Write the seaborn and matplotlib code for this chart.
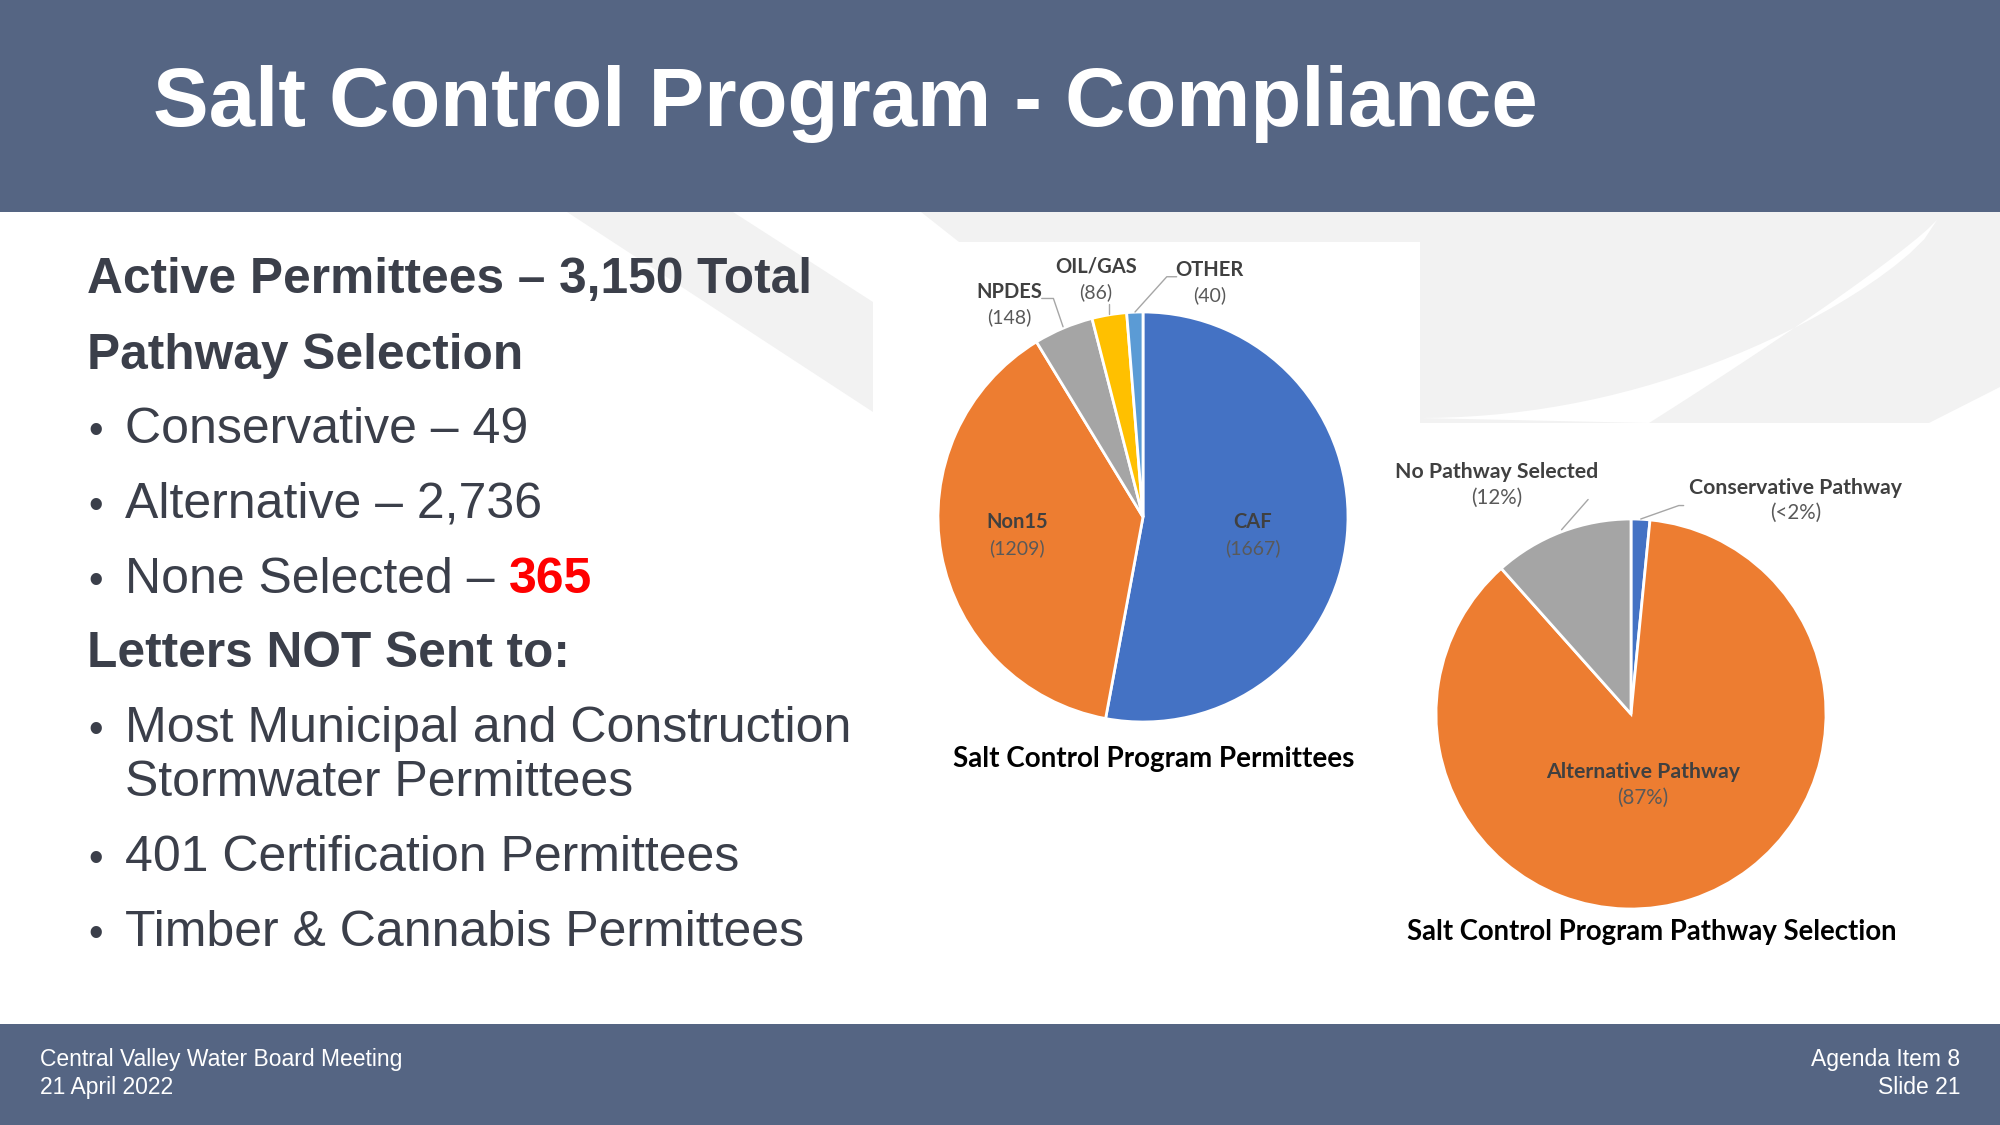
import numpy as np
import seaborn as sns
import matplotlib.pyplot as plt
from matplotlib.patches import Rectangle, Polygon

# ---- data ----
permit_names = ["CAF", "Non15", "NPDES", "OIL/GAS", "OTHER"]
permit_counts = [1667, 1209, 148, 86, 40]

path_names = ["Conservative Pathway", "Alternative Pathway", "No Pathway Selected"]
path_counts = [49, 2736, 365]
path_pcts = ["(<2%)", "(87%)", "(12%)"]

slide_title = "Salt Control Program - Compliance"
total_line = "Active Permittees \u2013 3,150 Total"
pathway_items = ["Conservative \u2013 49", "Alternative \u2013 2,736", "None Selected \u2013 "]
none_count = "365"
not_sent_items = ["Most Municipal and Construction\nStormwater Permittees",
                  "401 Certification Permittees",
                  "Timber & Cannabis Permittees"]
footer_left = ["Central Valley Water Board Meeting", "21 April 2022"]
footer_right = ["Agenda Item 8", "Slide 21"]

# office colours
BLUE, ORANGE, GRAY, GOLD, LBLUE = "#4472C4", "#ED7D31", "#A5A5A5", "#FFC000", "#5B9BD5"
BAND = "#556583"
TXT = "#3b3f4a"
BG_GRAY = "#F2F2F2"

sns.set_theme(style="white")
plt.rcParams['font.family'] = ['Liberation Sans', 'DejaVu Sans']
CHART_FONT = ['Lato', 'DejaVu Sans']

fig = plt.figure(figsize=(20, 11.25), dpi=100)
bg = fig.add_axes([0, 0, 1, 1])
bg.set_xlim(0, 2000)
bg.set_ylim(1125, 0)
bg.axis('off')

# background swoosh shapes
bg.add_patch(Polygon([(567, 212), (733, 212), (873, 302), (873, 412)], closed=True, color=BG_GRAY, lw=0))
bg.add_patch(Polygon([(921, 212), (2000, 212), (2000, 242), (959, 242)], closed=True, color=BG_GRAY, lw=0))
bg.add_patch(Polygon([(1420, 212), (2000, 212), (2000, 387), (1929, 423), (1420, 423)],
                     closed=True, color=BG_GRAY, lw=0))
t = np.linspace(0, 1, 30)
upper = np.column_stack([1937 - 517 * t ** 1.1, 220 + 198 * np.sin(t * np.pi / 2) ** 0.8])
lower = np.column_stack([1937 - 288 * t, 220 + 203 * t ** 0.9])
bg.add_patch(Polygon(np.vstack([upper, lower[::-1]]), closed=True, color="white", lw=0))
bg.add_patch(Rectangle((873, 242), 547, 560, color="white", lw=0))

# header / footer bands
bg.add_patch(Rectangle((0, 0), 2000, 212, color=BAND, lw=0))
bg.add_patch(Rectangle((0, 1024), 2000, 101, color=BAND, lw=0))
bg.text(153, 126, slide_title, color="white", fontsize=60, fontweight="bold", va="baseline")

# left text block
LX, BX, TX = 87, 88, 125
bg.text(LX, 293, total_line, color=TXT, fontsize=35.7, fontweight="bold", va="baseline")
bg.text(LX, 368.6, "Pathway Selection", color=TXT, fontsize=35.7, fontweight="bold", va="baseline")
y = 442.6
for i, item in enumerate(pathway_items):
    bg.text(BX, y, "\u2022", color=TXT, fontsize=30, va="baseline")
    t_item = bg.text(TX, y, item, color=TXT, fontsize=36, va="baseline")
    if i == len(pathway_items) - 1:
        fig.canvas.draw()
        bb = t_item.get_window_extent()
        x_end = bb.x1 * 2000 / fig.bbox.width
        bg.text(x_end, y, none_count, color="#FF0000", fontsize=36, fontweight="bold", va="baseline")
    y += 75.2
bg.text(LX, 667, "Letters NOT Sent to:", color=TXT, fontsize=35.7, fontweight="bold", va="baseline")
for yy, item in zip([742, 871, 946.5], not_sent_items):
    bg.text(BX, yy, "\u2022", color=TXT, fontsize=30, va="baseline")
    lines = item.split("\n")
    for k, ln in enumerate(lines):
        bg.text(TX, yy + k * 54, ln, color=TXT, fontsize=36, va="baseline")

# footer text
bg.text(40, 1066, footer_left[0], color="white", fontsize=16.5, va="baseline")
bg.text(40, 1094, footer_left[1], color="white", fontsize=16.5, va="baseline")
bg.text(1960, 1066, footer_right[0], color="white", fontsize=16.5, va="baseline", ha="right")
bg.text(1960, 1094, footer_right[1], color="white", fontsize=16.5, va="baseline", ha="right")

L = 1.7


def pie_axes(cx, cy, r):
    half = r * L
    ax = fig.add_axes([(cx - half) / 2000, 1 - (cy + half) / 1125, 2 * half / 2000, 2 * half / 1125])
    return ax


def fix_limits(ax):
    ax.set_xlim(-L, L)
    ax.set_ylim(-L, L)
    ax.axis('off')


def label(ax, x, y, name, value, size=14.5, gap=0.125):
    ax.text(x, y, name, ha="center", va="center", fontsize=size, fontweight="bold",
            color="#404040", family=CHART_FONT)
    ax.text(x, y - gap, value, ha="center", va="center", fontsize=size - 0.5,
            color="#595959", family=CHART_FONT)


# ---- pie 1 : permittees ----
ax1 = pie_axes(1143, 517, 205)
ax1.pie(permit_counts, colors=sns.color_palette([BLUE, ORANGE, GRAY, GOLD, LBLUE]),
        startangle=90, counterclock=False, radius=1,
        wedgeprops=dict(edgecolor="white", linewidth=2))
fix_limits(ax1)
p1_pos = [(0.534, -0.025), (-0.615, -0.025), (-0.652, 1.099), (-0.230, 1.224), (0.323, 1.205)]
for (x, yv), nm, cnt in zip(p1_pos, permit_names, permit_counts):
    label(ax1, x, yv, nm, f"({cnt})", size=14.5)
lead = dict(color="#A6A6A6", lw=1)
ax1.plot([-0.39, -0.437, -0.494], [0.928, 1.066, 1.066], **lead)
ax1.plot([-0.166, -0.166], [0.99, 1.04], **lead)
ax1.plot([-0.039, 0.116, 0.164], [1.0, 1.172, 1.172], **lead)
bg.text(1154, 759, "Salt Control Program Permittees", ha="center", va="center",
        fontsize=20, fontweight="bold", color="black", family=CHART_FONT)

# ---- pie 2 : pathway selection ----
ax2 = pie_axes(1631, 714, 195)
ax2.pie(path_counts, colors=sns.color_palette([BLUE, ORANGE, GRAY]),
        startangle=90, counterclock=False, radius=1,
        wedgeprops=dict(edgecolor="white", linewidth=2))
fix_limits(ax2)
p2_pos = [(0.846, 1.160), (0.062, -0.297), (-0.690, 1.239)]
for (x, yv), nm, pc in zip(p2_pos, path_names, path_pcts):
    label(ax2, x, yv, nm, pc, size=15.3, gap=0.131)
ax2.plot([0.05, 0.245, 0.27], [1.0, 1.069, 1.069], **lead)
ax2.plot([-0.356, -0.22], [0.945, 1.10], **lead)
bg.text(1652, 932, "Salt Control Program Pathway Selection", ha="center", va="center",
        fontsize=19.8, fontweight="bold", color="black", family=CHART_FONT)

fig.savefig("out.png", dpi=100)
